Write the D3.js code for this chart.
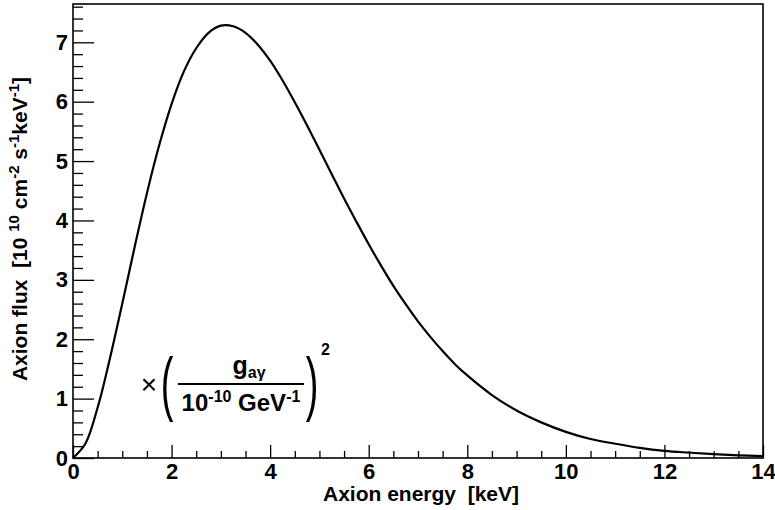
<!DOCTYPE html>
<html><head><meta charset="utf-8">
<script src="https://cdn.jsdelivr.net/npm/d3@7"></script>
<style>
body{margin:0;background:#fff}
text{font-family:"Liberation Sans",Arial,Helvetica,sans-serif;fill:#000;white-space:pre}
</style>
</head><body>
<svg id="c" width="775" height="510"></svg>
<script>
// Axion energy [keV]
const energy = [0,0.25,0.5,0.75,1,1.25,1.5,1.75,2,2.25,2.5,2.75,3,3.25,3.5,3.75,4,4.25,4.5,4.75,5,5.25,5.5,5.75,6,6.25,6.5,6.75,7,7.25,7.5,7.75,8,8.5,9,9.5,10,10.5,11,11.5,12,12.5,13,13.5,14];
// Axion flux [10^10 cm^-2 s^-1 keV^-1]
const flux = [0,0.24,0.85,1.68,2.60,3.55,4.46,5.27,5.96,6.51,6.90,7.16,7.28,7.27,7.16,6.96,6.69,6.36,5.99,5.60,5.19,4.78,4.37,3.98,3.60,3.24,2.90,2.59,2.30,2.04,1.80,1.58,1.39,1.06,0.80,0.60,0.44,0.32,0.24,0.17,0.12,0.09,0.064,0.045,0.032];
const xMajor = [0,2,4,6,8,10,12,14];
const xMinor = [0.5,1,1.5,2.5,3,3.5,4.5,5,5.5,6.5,7,7.5,8.5,9,9.5,10.5,11,11.5,12.5,13,13.5];
const yMajor = [0,1,2,3,4,5,6,7];
const yMinor = [0.2,0.4,0.6,0.8,1.2,1.4,1.6,1.8,2.2,2.4,2.6,2.8,3.2,3.4,3.6,3.8,4.2,4.4,4.6,4.8,5.2,5.4,5.6,5.8,6.2,6.4,6.6,6.8,7.2,7.4,7.6];

const svg = d3.select("#c");
const L=73, R=763, T=4, B=458;
const x = d3.scaleLinear().domain([0,14]).range([L,R]);
const y = d3.scaleLinear().domain([0,7.645]).range([B,T]);
const FONT = "'Liberation Sans',Arial,Helvetica,sans-serif";

// frame
svg.append("rect").attr("x",L).attr("y",T).attr("width",R-L).attr("height",B-T)
  .attr("fill","none").attr("stroke","#000").attr("stroke-width",1.6);

// x axis
const gx = svg.append("g").attr("transform",`translate(0,${B})`);
gx.call(d3.axisBottom(x).tickValues(xMajor).tickSize(-13).tickPadding(5).tickFormat(d3.format("d")));
const gxm = svg.append("g").attr("transform",`translate(0,${B})`);
gxm.call(d3.axisBottom(x).tickValues(xMinor).tickSize(-7).tickFormat(""));
// y axis
const gy = svg.append("g").attr("transform",`translate(${L},0)`);
gy.call(d3.axisLeft(y).tickValues(yMajor).tickSize(-21).tickPadding(5).tickFormat(d3.format("d")));
const gym = svg.append("g").attr("transform",`translate(${L},0)`);
gym.call(d3.axisLeft(y).tickValues(yMinor).tickSize(-10).tickFormat(""));

[gx,gxm,gy,gym].forEach(g=>{
  g.select(".domain").remove();
  g.selectAll(".tick line").attr("stroke","#000").attr("stroke-width",1.3);
  g.selectAll("text").attr("font-size",22).attr("font-family",FONT)
    .style("font-weight","bold").attr("fill","#000");
});

// curve
const line = d3.line().x((d,i)=>x(energy[i])).y(d=>y(d)).curve(d3.curveCatmullRom.alpha(0.5));
svg.append("path").datum(flux).attr("d",line).attr("fill","none")
  .attr("stroke","#000").attr("stroke-width",2.2).attr("stroke-linejoin","round");

// axis titles
svg.append("text").attr("x",(L+R)/2+3).attr("y",501).attr("text-anchor","middle")
  .attr("font-size",21).style("font-weight","bold").text("Axion energy  [keV]");

const yt = svg.append("text").attr("transform",`translate(27,${(T+B)/2-2}) rotate(-90)`)
  .attr("text-anchor","middle").attr("font-size",21).style("font-weight","bold");
yt.append("tspan").text("Axion flux  [10 ");
yt.append("tspan").attr("font-size",15).attr("dy",-8).text("10");
yt.append("tspan").attr("dy",8).text(" cm");
yt.append("tspan").attr("font-size",15).attr("dy",-8).text("-2");
yt.append("tspan").attr("dy",8).text(" s");
yt.append("tspan").attr("font-size",15).attr("dy",-8).text("-1");
yt.append("tspan").attr("dy",8).text("keV");
yt.append("tspan").attr("font-size",15).attr("dy",-8).text("-1");
yt.append("tspan").attr("dy",8).text("]");

// coupling annotation
const ann = svg.append("g");
ann.append("text").attr("x",149).attr("y",394).attr("text-anchor","middle")
  .attr("font-size",28).style("font-weight","normal").text("×");
ann.append("text").attr("text-anchor","middle").attr("font-size",38).style("font-weight","normal")
  .attr("transform","translate(167,383) scale(1,1.85)").attr("y",13).text("(");
ann.append("text").attr("text-anchor","middle").attr("font-size",38).style("font-weight","normal")
  .attr("transform","translate(312,383) scale(1,1.85)").attr("y",13).text(")");
ann.append("text").attr("x",321).attr("y",355).attr("font-size",16).style("font-weight","bold").text("2");
const num = ann.append("text").attr("x",249).attr("y",374).attr("text-anchor","middle")
  .attr("font-size",25).style("font-weight","bold");
num.append("tspan").text("g");
num.append("tspan").attr("font-size",16).attr("dy",4).text("aγ");
ann.append("line").attr("x1",178).attr("x2",304).attr("y1",384).attr("y2",384)
  .attr("stroke","#000").attr("stroke-width",2);
const den = ann.append("text").attr("x",241).attr("y",411).attr("text-anchor","middle")
  .attr("font-size",24).style("font-weight","bold");
den.append("tspan").text("10");
den.append("tspan").attr("font-size",16).attr("dy",-9).text("-10");
den.append("tspan").attr("dy",9).text(" GeV");
den.append("tspan").attr("font-size",16).attr("dy",-9).text("-1");
</script>
</body></html>
